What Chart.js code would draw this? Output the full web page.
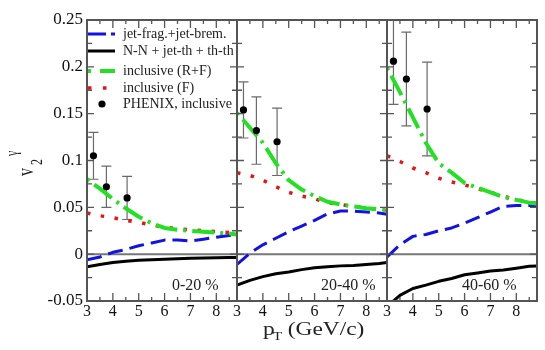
<!DOCTYPE html>
<html><head><meta charset="utf-8">
<script src="https://cdn.jsdelivr.net/npm/chart.js@4/dist/chart.umd.min.js"></script>
<style>html,body{margin:0;padding:0;background:#fff;overflow:hidden}#wrap{width:545px;height:350px;position:relative}</style>
</head><body><div id="wrap"><canvas id="c" width="545" height="350"></canvas></div>
<script>
// ---- data ----
const ptGrid = [3, 3.5, 4, 4.5, 5, 5.5, 6, 6.5, 7, 7.5, 8, 8.5, 8.8];
const panelNames = ['0-20 %', '20-40 %', '40-60 %'];
const seriesNames = ['jet-frag.+jet-brem.', 'N-N + jet-th + th-th', 'inclusive (R+F)', 'inclusive (F)', 'PHENIX, inclusive'];

// 0-20 %
const jet_0_20   = [-0.006, -0.003, 0.002, 0.005, 0.009, 0.012, 0.015, 0.015, 0.014, 0.016, 0.018, 0.020, 0.021];
const nn_0_20    = [-0.0135, -0.011, -0.009, -0.0075, -0.0065, -0.006, -0.0053, -0.0048, -0.0044, -0.004, -0.0038, -0.0036, -0.0035];
const incRF_0_20 = [0.080, 0.070, 0.059, 0.049, 0.040, 0.033, 0.028, 0.026, 0.025, 0.024, 0.023, 0.022, 0.021];
const incF_0_20  = [0.044, 0.041, 0.039, 0.036, 0.034, 0.031, 0.029, 0.027, 0.026, 0.025, 0.024, 0.023, 0.022];
// 20-40 %
const jet_20_40   = [-0.011, 0.001, 0.010, 0.017, 0.024, 0.030, 0.036, 0.043, 0.046, 0.046, 0.045, 0.044, 0.0425];
const nn_20_40    = [-0.033, -0.028, -0.024, -0.021, -0.019, -0.0165, -0.0145, -0.0135, -0.0125, -0.012, -0.011, -0.010, -0.009];
const incRF_20_40 = [0.151, 0.135, 0.119, 0.097, 0.079, 0.069, 0.062, 0.056, 0.053, 0.051, 0.049, 0.048, 0.047];
const incF_20_40  = [0.087, 0.084, 0.079, 0.072, 0.066, 0.062, 0.059, 0.055, 0.053, 0.051, 0.049, 0.048, 0.047];
// 40-60 %
const jet_40_60   = [-0.003, 0.010, 0.019, 0.021, 0.025, 0.028, 0.033, 0.039, 0.045, 0.051, 0.052, 0.052, 0.0515];
const nn_40_60    = [-0.056, -0.044, -0.0366, -0.033, -0.029, -0.026, -0.022, -0.020, -0.018, -0.017, -0.015, -0.013, -0.0125];
const incRF_40_60 = [0.199, 0.173, 0.146, 0.119, 0.097, 0.087, 0.076, 0.071, 0.066, 0.061, 0.058, 0.055, 0.054];
const incF_40_60  = [0.105, 0.099, 0.092, 0.087, 0.081, 0.077, 0.074, 0.070, 0.066, 0.062, 0.058, 0.056, 0.054];

// PHENIX inclusive points
const phenixPt = [3.25, 3.75, 4.55];
const phenix_0_20  = [0.105, 0.072, 0.060];
const phenixErr_0_20  = [0.025, 0.022, 0.023];
const phenix_20_40 = [0.154, 0.132, 0.120];
const phenixErr_20_40 = [0.030, 0.036, 0.036];
const phenix_40_60 = [0.206, 0.187, 0.155];
const phenixErr_40_60 = [0.046, 0.050, 0.050];

const xTickValues = [3, 4, 5, 6, 7, 8];
const xTickLabels = ['3', '4', '5', '6', '7', '8'];
const yTickValues = [-0.05, 0, 0.05, 0.1, 0.15, 0.2, 0.25];
const yTickLabels = ['-0.05', '0', '0.05', '0.1', '0.15', '0.2', '0.25'];

// ---- styles ----
const COL = {jet: '#1212e6', nn: '#000000', incRF: '#22e022', incF: '#e81414', pts: '#000000', err: '#6a6a6a', frame: '#555555', zero: '#777777'};
const SERIF = '"Liberation Serif", "DejaVu Serif", serif';

const panels = [
  {jet: jet_0_20, nn: nn_0_20, incRF: incRF_0_20, incF: incF_0_20, pts: phenix_0_20, err: phenixErr_0_20},
  {jet: jet_20_40, nn: nn_20_40, incRF: incRF_20_40, incF: incF_20_40, pts: phenix_20_40, err: phenixErr_20_40},
  {jet: jet_40_60, nn: nn_40_60, incRF: incRF_40_60, incF: incF_40_60, pts: phenix_40_60, err: phenixErr_40_60}
];

const lineStyle = {
  jet:   {borderColor: COL.jet, borderWidth: 3, borderDash: [15, 7], borderDashOffset: 0, order: 3},
  nn:    {borderColor: COL.nn, borderWidth: 3, borderDash: [], order: 4},
  incRF: {borderColor: COL.incRF, borderWidth: 4, borderDash: [22, 6, 3, 6], borderDashOffset: 28, order: 1},
  incF:  {borderColor: COL.incF, borderWidth: 3.5, borderDash: [3.5, 10.5], borderDashOffset: 0, order: 2}
};

const datasets = [];
panels.forEach((p, i) => {
  const xid = 'x' + (i + 1);
  ['jet', 'nn', 'incRF', 'incF'].forEach(k => {
    datasets.push(Object.assign({
      type: 'line', label: k + i, xAxisID: xid, yAxisID: 'y',
      data: ptGrid.map((x, j) => ({x: x, y: p[k][j]})),
      pointRadius: 0, tension: 0, fill: false, borderCapStyle: 'butt', borderJoinStyle: 'round'
    }, lineStyle[k]));
  });
  datasets.push({
    type: 'scatter', label: 'phenix' + i, xAxisID: xid, yAxisID: 'y',
    data: phenixPt.map((x, j) => ({x: x, y: p.pts[j]})),
    errors: p.err,
    pointRadius: 3.6, pointBackgroundColor: COL.pts, pointBorderWidth: 0, showLine: false, order: 0
  });
});

function xScale(id) {
  return {
    type: 'linear', position: 'bottom', stack: 'panels', stackWeight: 1,
    min: 3, max: 8.8,
    afterBuildTicks: s => { s.ticks = xTickValues.map(v => ({value: v})); },
    ticks: {callback: (v, i) => xTickLabels[i], font: {family: SERIF, size: 16}, color: '#111', padding: 1, maxRotation: 0, autoSkip: false},
    grid: {display: false, drawTicks: false},
    border: {display: false},
    afterFit: s => { s.height = 49; }
  };
}

const panelPlugin = {
  id: 'panels',
  beforeDatasetsDraw(chart) {
    const ctx = chart.ctx, ca = chart.chartArea, y = chart.scales.y;
    ctx.save();
    // zero line
    ctx.strokeStyle = COL.zero; ctx.lineWidth = 2;
    ctx.beginPath(); ctx.moveTo(ca.left, y.getPixelForValue(0)); ctx.lineTo(ca.right, y.getPixelForValue(0)); ctx.stroke();
    // error bars
    ctx.beginPath(); ctx.rect(ca.left, ca.top, ca.right - ca.left, ca.bottom - ca.top); ctx.clip();
    chart.data.datasets.forEach(ds => {
      if (!ds.errors) return;
      const xs = chart.scales[ds.xAxisID];
      ctx.strokeStyle = COL.err; ctx.lineWidth = 1.2;
      ds.data.forEach((pt, j) => {
        const px = xs.getPixelForValue(pt.x);
        const yt = y.getPixelForValue(pt.y + ds.errors[j]);
        const yb = y.getPixelForValue(pt.y - ds.errors[j]);
        ctx.beginPath();
        ctx.moveTo(px, yt); ctx.lineTo(px, yb);
        ctx.moveTo(px - 5, yt); ctx.lineTo(px + 5, yt);
        ctx.moveTo(px - 5, yb); ctx.lineTo(px + 5, yb);
        ctx.stroke();
      });
    });
    ctx.restore();
  },
  afterDatasetsDraw(chart) {
    const ctx = chart.ctx, ca = chart.chartArea, y = chart.scales.y;
    ctx.save();
    ctx.strokeStyle = COL.frame; ctx.lineWidth = 1.3;
    ['x1', 'x2', 'x3'].forEach(id => {
      const s = chart.scales[id];
      const L = Math.round(s.left), R = Math.round(s.right);
      ctx.beginPath();
      // x ticks (inward) on top and bottom edges
      for (let v = 3; v <= 8.55; v += 0.5) {
        const px = s.getPixelForValue(v);
        const len = Number.isInteger(v) ? 8 : 4;
        ctx.moveTo(px, ca.top); ctx.lineTo(px, ca.top + len);
        ctx.moveTo(px, ca.bottom); ctx.lineTo(px, ca.bottom - len);
      }
      // y ticks (inward) on left and right edges
      for (let k = 0; k <= 12; k++) {
        const v = -0.05 + k * 0.025;
        const py = y.getPixelForValue(v);
        const len = (k % 2 === 0) ? 7 : 5;
        ctx.moveTo(L, py); ctx.lineTo(L + len, py);
        ctx.moveTo(R, py); ctx.lineTo(R - len, py);
      }
      ctx.stroke();
      ctx.lineWidth = 2;
      ctx.strokeRect(L, ca.top, R - L, ca.bottom - ca.top);
      ctx.lineWidth = 1.3;
    });
    ctx.restore();
  },
  afterDraw(chart) {
    const ctx = chart.ctx, ca = chart.chartArea;
    ctx.save();
    // panel labels
    const labelOffsets = [85, 84, 75];
    ctx.fillStyle = '#222'; ctx.font = '16px ' + SERIF; ctx.textBaseline = 'alphabetic'; ctx.textAlign = 'left';
    ['x1', 'x2', 'x3'].forEach((id, i) => {
      ctx.fillText(panelNames[i], chart.scales[id].left + labelOffsets[i], ca.bottom - 11);
    });
    // legend
    const lx = ca.left + 1, rows = [34, 51, 71, 88, 104];
    const styles = [lineStyle.jet, lineStyle.nn, lineStyle.incRF, lineStyle.incF];
    const dashes = [[18, 5], [], [3, 9, 20, 4], [3.5, 11.5]];
    styles.forEach((st, i) => {
      ctx.strokeStyle = st.borderColor; ctx.lineWidth = st.borderWidth; ctx.setLineDash(dashes[i]); ctx.lineCap = 'butt';
      ctx.beginPath(); ctx.moveTo(lx, rows[i]); ctx.lineTo(lx + 27, rows[i]); ctx.stroke();
    });
    ctx.setLineDash([]);
    ctx.fillStyle = COL.pts; ctx.beginPath(); ctx.arc(lx + 14, rows[4], 3.6, 0, Math.PI * 2); ctx.fill();
    ctx.fillStyle = '#222'; ctx.font = '14px ' + SERIF; ctx.textBaseline = 'middle';
    seriesNames.forEach((n, i) => ctx.fillText(n, lx + 35, rows[i]));
    // x title p_T (GeV/c)
    ctx.textBaseline = 'alphabetic';
    ctx.save(); ctx.translate(263, 335); ctx.scale(1.3, 1);
    ctx.font = '18px ' + SERIF; ctx.fillText('p', 0, 0);
    ctx.font = '12px ' + SERIF; ctx.fillText('T', 7.5, 5);
    ctx.font = '18px ' + SERIF; ctx.fillText('(GeV/c)', 19, 0);
    ctx.restore();
    // y title v_2^gamma
    ctx.save(); ctx.translate(33, 176); ctx.rotate(-Math.PI / 2); ctx.scale(1, 1.4);
    ctx.font = '16px ' + SERIF; ctx.fillText('v', 0, 0);
    ctx.font = '12px ' + SERIF; ctx.fillText('2', 11, 6.5);
    ctx.fillText('\u03b3', 20, -11.5);
    ctx.restore();
    ctx.restore();
  }
};

new Chart(document.getElementById('c'), {
  data: {datasets: datasets},
  options: {
    responsive: false, animation: false, devicePixelRatio: 1,
    layout: {padding: {left: 0, top: 20, right: 8, bottom: 0}},
    plugins: {legend: {display: false}, tooltip: {enabled: false}},
    scales: {
      x1: xScale('x1'), x2: xScale('x2'), x3: xScale('x3'),
      y: {
        type: 'linear', position: 'left', min: -0.05, max: 0.25,
        afterBuildTicks: s => { s.ticks = yTickValues.map(v => ({value: v})); },
        ticks: {callback: (v, i) => yTickLabels[i], font: {family: SERIF, size: 17}, color: '#111', padding: 4, autoSkip: false},
        grid: {display: false, drawTicks: false},
        border: {display: false},
        afterFit: s => { s.width = 87; }
      }
    }
  },
  plugins: [panelPlugin]
});
</script></body></html>
